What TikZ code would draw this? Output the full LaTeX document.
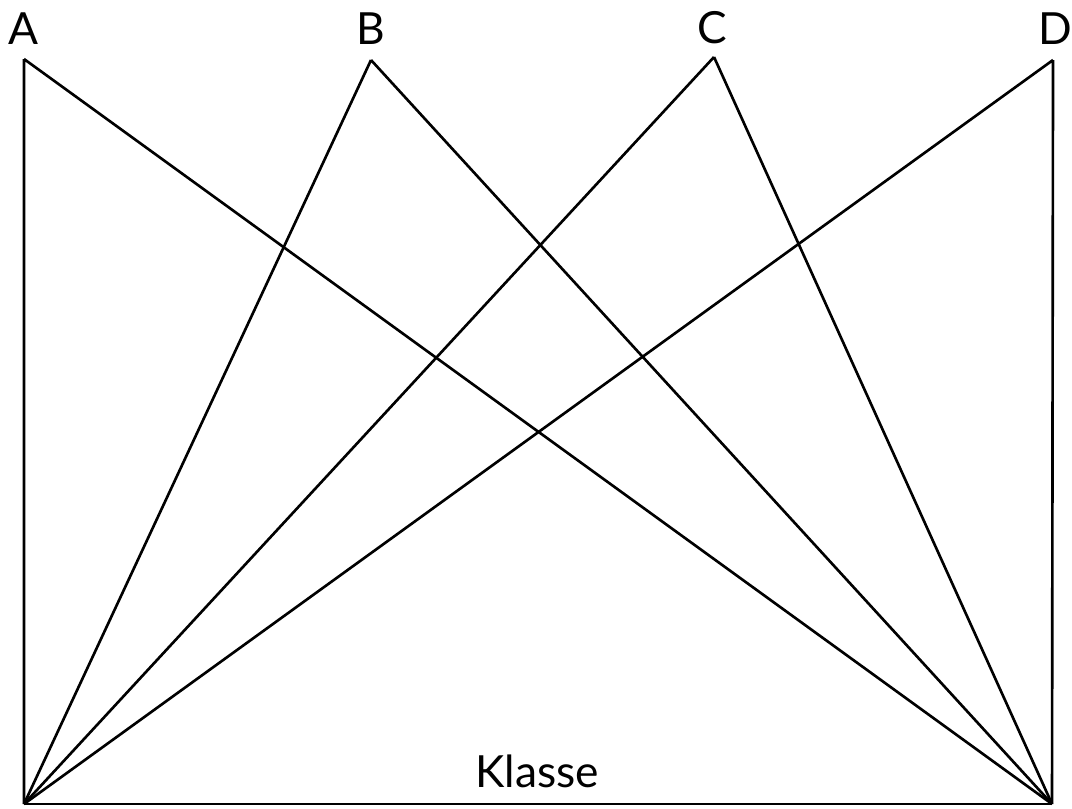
\documentclass[tikz,border=0pt]{standalone}
\usepackage{fontspec}
\setmainfont{Lato}

\begin{document}
\begin{tikzpicture}[line width=0.75pt, lbl/.style={inner sep=0pt, font=\fontsize{12.6}{14}\selectfont}]
  \useasboundingbox (0,0) rectangle (10.72,-8.08);
  \coordinate (A) at (0.24,-0.59);
  \coordinate (B) at (3.71,-0.60);
  \coordinate (C) at (7.14,-0.57);
  \coordinate (D) at (10.53,-0.60);
  \coordinate (L) at (0.24,-8.04);
  \coordinate (R) at (10.52,-8.04);

  \node[lbl] (la) at (0.23,-0.285) {A};
  \node[lbl] (lb) at (3.71,-0.285) {B};
  \node[lbl] (lc) at (7.12,-0.275) {C};
  \node[lbl] (ld) at (10.55,-0.285) {D};
  \node[lbl, anchor=base] (klasse) at (5.37,-7.87) {Klasse};

  % every attribute to both ends of the class
  \foreach \p in {A,B,C,D}
    \draw (\p) -- (L) (\p) -- (R);
  \draw (L) -- (R);
\end{tikzpicture}
\end{document}
